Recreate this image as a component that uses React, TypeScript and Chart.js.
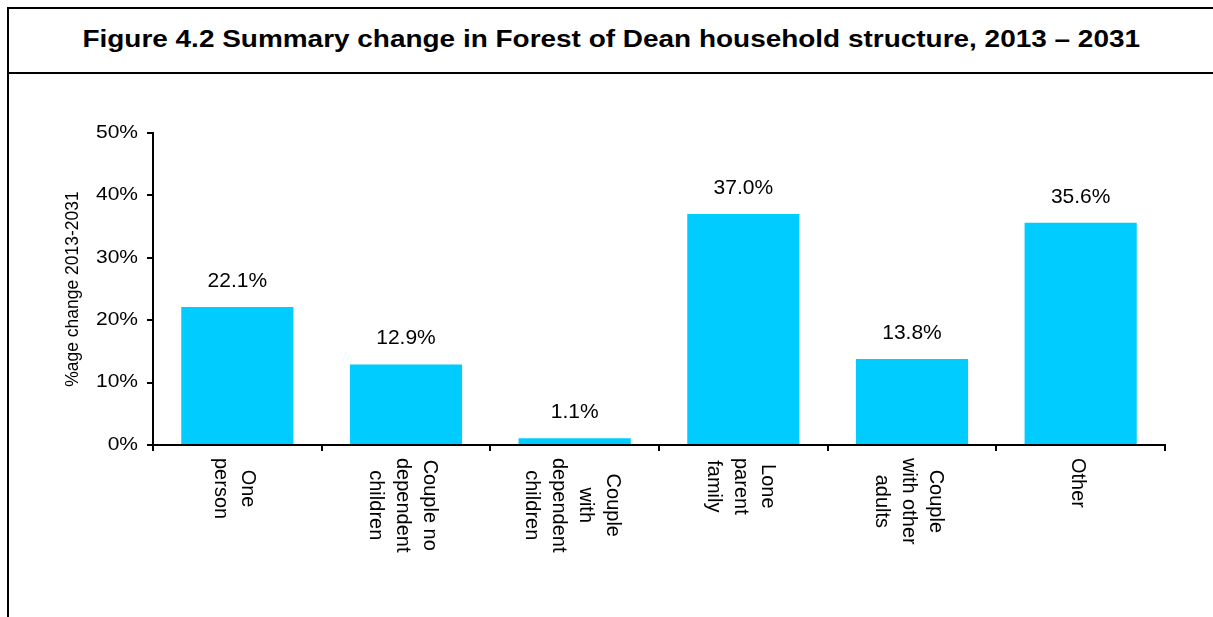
import React, { useEffect, useRef } from "react";
import { Chart, registerables } from "chart.js";

Chart.register(...registerables);

const titleText = "Figure 4.2 Summary change in Forest of Dean household structure, 2013 \u2013 2031";
const yAxisTitle = "%age change 2013-2031";
const categoryLines: string[][] = [
  ["One", "person"],
  ["Couple no", "dependent", "children"],
  ["Couple", "with", "dependent", "children"],
  ["Lone", "parent", "family"],
  ["Couple", "with other", "adults"],
  ["Other"],
];
const values: number[] = [22.1, 12.9, 1.1, 37.0, 13.8, 35.6];
const yMin = 0;
const yMax = 50;
const yStep = 10;

const FONT = '"Liberation Sans", Arial, Helvetica, sans-serif';

const textPlugin = {
  id: "customText",
  afterDraw(chart: any) {
    const ctx: CanvasRenderingContext2D = chart.ctx;
    const xs = chart.scales.x;
    const ys = chart.scales.y;
    const area = chart.chartArea;
    ctx.save();
    ctx.fillStyle = "#000";

    // y tick labels (horizontally stretched like the reference)
    ctx.font = `17.5px ${FONT}`;
    ctx.textAlign = "right";
    ctx.textBaseline = "middle";
    ys.ticks.forEach((t: any) => {
      const py = ys.getPixelForValue(t.value);
      ctx.save();
      ctx.translate(area.left - 15, py);
      ctx.scale(1.2, 1);
      ctx.fillText(`${t.value}%`, 0, 0);
      ctx.restore();
    });

    // y axis title
    ctx.save();
    ctx.font = `17.5px ${FONT}`;
    ctx.textAlign = "center";
    ctx.textBaseline = "middle";
    ctx.translate(73, (area.top + area.bottom) / 2);
    ctx.rotate(-Math.PI / 2);
    ctx.fillText(yAxisTitle, 0, 0);
    ctx.restore();

    // data labels
    ctx.font = `21px ${FONT}`;
    ctx.textAlign = "center";
    ctx.textBaseline = "middle";
    const meta = chart.getDatasetMeta(0);
    meta.data.forEach((bar: any, i: number) => {
      ctx.fillText(`${values[i].toFixed(1)}%`, bar.x, bar.y - 26);
    });

    // x category labels, rotated clockwise
    ctx.font = `20px ${FONT}`;
    const lh = 27;
    categoryLines.forEach((lines, i) => {
      const cx = xs.getPixelForValue(i) - 3;
      const maxW = Math.max(...lines.map((l) => ctx.measureText(l).width));
      ctx.save();
      ctx.translate(cx, area.bottom + 13);
      ctx.rotate(Math.PI / 2);
      ctx.textAlign = "center";
      ctx.textBaseline = "middle";
      lines.forEach((l, j) => {
        const yy = (j - (lines.length - 1) / 2) * lh;
        ctx.fillText(l, maxW / 2, yy);
      });
      ctx.restore();
    });

    ctx.restore();
  },
};

export default function App() {
  const canvasRef = useRef<HTMLCanvasElement | null>(null);

  useEffect(() => {
    if (!canvasRef.current) return;
    const chart = new Chart(canvasRef.current, {
      type: "bar",
      data: {
        labels: categoryLines.map((l) => l.join(" ")),
        datasets: [
          {
            data: values,
            backgroundColor: "#00CCFF",
            borderWidth: 0,
            barPercentage: 0.665,
            categoryPercentage: 1,
          },
        ],
      },
      options: {
        responsive: false,
        animation: false,
        devicePixelRatio: 1,
        layout: { padding: { top: 133, right: 48, bottom: 0, left: 0 } },
        plugins: {
          legend: { display: false },
          title: { display: false },
          tooltip: { enabled: false },
        },
        scales: {
          x: {
            offset: true,
            ticks: { display: false },
            grid: {
              display: true,
              offset: true,
              drawOnChartArea: false,
              drawTicks: true,
              tickLength: 6,
              color: "#000",
              lineWidth: 2,
            },
            border: { display: true, color: "#000", width: 2 },
            afterFit: (scale: any) => {
              scale.height = 172;
            },
          },
          y: {
            min: yMin,
            max: yMax,
            ticks: { display: false, stepSize: yStep },
            grid: {
              display: true,
              drawOnChartArea: false,
              drawTicks: true,
              tickLength: 6,
              color: "#000",
              lineWidth: 2,
            },
            border: { display: true, color: "#000", width: 2 },
            afterFit: (scale: any) => {
              scale.width = 153;
            },
          },
        },
      },
      plugins: [textPlugin],
    });
    return () => chart.destroy();
  }, []);

  return (
    <div
      style={{
        position: "fixed",
        left: 0,
        top: 0,
        width: 1213,
        height: 617,
        background: "#fff",
        overflow: "hidden",
      }}
    >
      <div style={{ position: "absolute", left: 7, top: 7, width: 2, height: 620, background: "#000" }} />
      <div style={{ position: "absolute", left: 7, top: 7, width: 1210, height: 2, background: "#000" }} />
      <div style={{ position: "absolute", left: 7, top: 72, width: 1210, height: 2, background: "#000" }} />
      <div
        style={{
          position: "absolute",
          left: 0,
          top: 8,
          width: 1223,
          height: 63,
          display: "flex",
          alignItems: "center",
          justifyContent: "center",
        }}
      >
        <span
          style={{
            fontFamily: FONT,
            fontWeight: "bold",
            fontSize: 23,
            whiteSpace: "nowrap",
            display: "inline-block",
            transform: "scaleX(1.215)",
            color: "#000",
          }}
        >
          {titleText}
        </span>
      </div>
      <canvas
        ref={canvasRef}
        width={1213}
        height={617}
        style={{ position: "absolute", left: 0, top: 0, width: 1213, height: 617 }}
      />
    </div>
  );
}
